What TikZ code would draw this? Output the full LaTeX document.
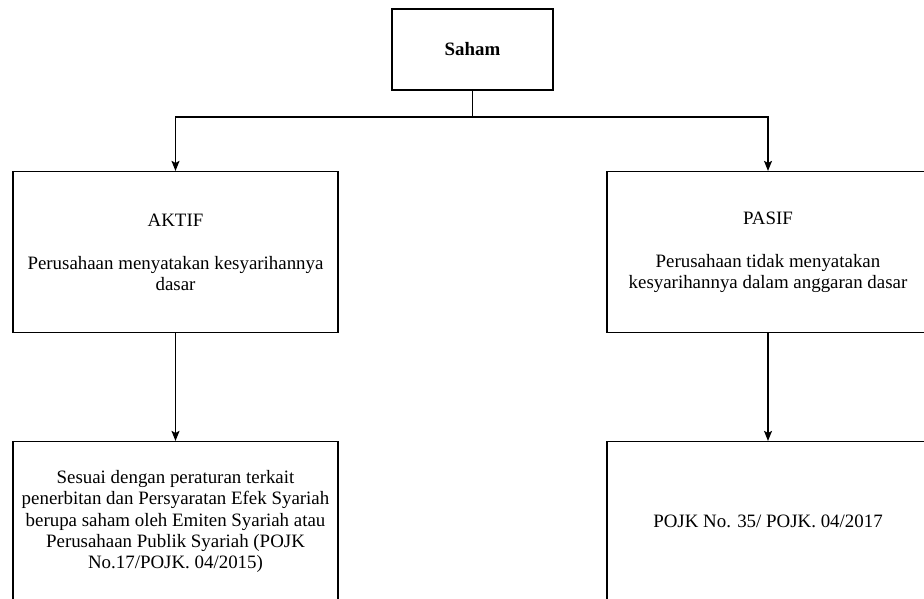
\documentclass[tikz,border=0pt]{standalone}
\usepackage{fontspec}
\setmainfont{Liberation Serif}
\usetikzlibrary{arrows.meta}
\begin{document}
\begin{tikzpicture}[x=1pt,y=-1pt,
  box/.style={draw=black, line width=1.2pt, inner sep=0pt, align=center,
    font=\fontsize{18.9}{21.3}\selectfont},
  arr/.style={line width=1.2pt, -{Stealth[length=10pt,width=8pt,inset=2pt]}},
  conn/.style={line width=1.2pt}]
\useasboundingbox (0,0) rectangle (924,598);
\clip (0,0) rectangle (924,598);
\fill[white] (0,0) rectangle (924,598);
\node[box, minimum width=161pt, minimum height=81pt] (saham) at (472.5,49.5) {\bfseries Saham};
\node[box, minimum width=325pt, minimum height=161pt] (aktif) at (175.5,252) {AKTIF\\[21.7pt]Perusahaan menyatakan kesyarihannya\\dasar};
\node[box, minimum width=322pt, minimum height=161pt] (pasif) at (768,252) {PASIF\\[21.7pt]Perusahaan tidak menyatakan\\kesyarihannya dalam anggaran dasar};
\node[box, minimum width=325pt, minimum height=160pt] (aktifb) at (175.5,521.5) {Sesuai dengan peraturan terkait\\penerbitan dan Persyaratan Efek Syariah\\berupa saham oleh Emiten Syariah atau\\Perusahaan Publik Syariah (POJK\\No.17/POJK. 04/2015)};
\node[box, minimum width=322pt, minimum height=160pt] (pasifb) at (768,521.5) {POJK No. 35/ POJK. 04/2017};
\coordinate (bus) at (472.5,117);
\draw[conn] (saham.south) -- (bus);
\draw[arr] (bus) -| (aktif.north);
\draw[arr] (bus) -| (pasif.north);
\draw[arr] (aktif.south) -- (aktifb.north);
\draw[arr] (pasif.south) -- (pasifb.north);
\end{tikzpicture}
\end{document}
